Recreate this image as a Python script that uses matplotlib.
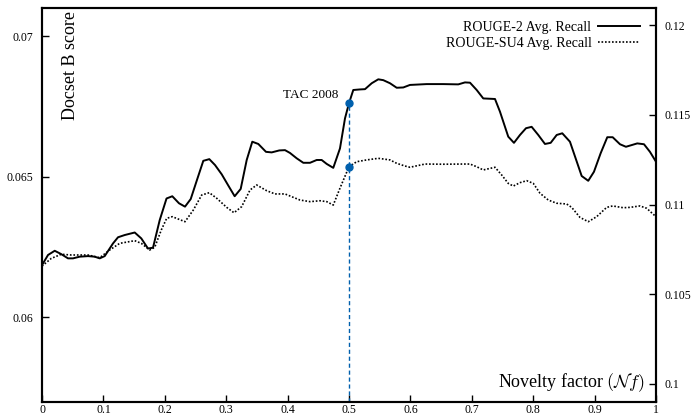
import numpy as np
import matplotlib
matplotlib.use('Agg')
import matplotlib.pyplot as plt

plt.rcParams['font.family'] = ['Liberation Serif', 'DejaVu Serif']
plt.rcParams['mathtext.fontset'] = 'cm'

# ROUGE-2 (left axis)
r2_x = [0.0, 0.0098, 0.0207, 0.0314, 0.0423, 0.0505, 0.0614, 0.0749, 0.0858, 0.0940,
        0.1021, 0.1156, 0.1238, 0.1347, 0.1510, 0.1617, 0.1726, 0.1808, 0.1917, 0.2028,
        0.2122, 0.2231, 0.2329, 0.2422, 0.2524, 0.2627, 0.2725, 0.2818, 0.2927, 0.3029,
        0.3138, 0.3236, 0.3334, 0.3425, 0.3523, 0.3648, 0.3741, 0.3865, 0.3958, 0.4039,
        0.4148, 0.4256, 0.4365, 0.4474, 0.4555, 0.4637, 0.4744, 0.4853, 0.4935, 0.5,
        0.5070, 0.5179, 0.5261, 0.5370, 0.5477, 0.5559, 0.5668, 0.5777, 0.5884, 0.5993,
        0.6265, 0.6536, 0.6780, 0.6889, 0.6971, 0.7080, 0.7187, 0.7378, 0.7459, 0.7594,
        0.7687, 0.7785, 0.7883, 0.7975, 0.8083, 0.8192, 0.8285, 0.8383, 0.8474, 0.8599,
        0.8790, 0.8897, 0.8990, 0.9099, 0.9207, 0.9295, 0.9414, 0.9511, 0.9604, 0.9695,
        0.9805, 0.9902, 1.0]
r2_y = [0.06185, 0.06221, 0.06236, 0.06224, 0.06209, 0.06209, 0.06215, 0.06217, 0.06215, 0.06209,
        0.06217, 0.06262, 0.06284, 0.06292, 0.06301, 0.06280, 0.06244, 0.06247, 0.06345, 0.06422,
        0.06430, 0.06405, 0.06393, 0.06420, 0.06488, 0.06556, 0.06562, 0.06541, 0.06508, 0.06470,
        0.06430, 0.06456, 0.06559, 0.06624, 0.06616, 0.06588, 0.06586, 0.06593, 0.06594, 0.06584,
        0.06565, 0.06549, 0.06549, 0.06559, 0.06559, 0.06545, 0.06531, 0.06600, 0.06707, 0.06761,
        0.06808, 0.06810, 0.06811, 0.06832, 0.06846, 0.06843, 0.06832, 0.06816, 0.06817, 0.06826,
        0.06829, 0.06829, 0.06828, 0.06835, 0.06834, 0.06808, 0.06778, 0.06776, 0.06731, 0.06642,
        0.06620, 0.06648, 0.06672, 0.06677, 0.06648, 0.06616, 0.06620, 0.06648, 0.06654, 0.06624,
        0.06502, 0.06485, 0.06517, 0.06583, 0.06640, 0.06640, 0.06615, 0.06606, 0.06612, 0.06618,
        0.06615, 0.06588, 0.06553]

# ROUGE-SU4 (right axis)
su4_x = [0.0, 0.0151, 0.0314, 0.0477, 0.0749, 0.0940, 0.1103, 0.1265, 0.1510, 0.1617,
         0.1754, 0.1836, 0.1943, 0.2031, 0.2122, 0.2329, 0.2464, 0.2601, 0.2725, 0.2845,
         0.3008, 0.3127, 0.3252, 0.3388, 0.3497, 0.3660, 0.3795, 0.3958, 0.4093, 0.4202,
         0.4365, 0.4528, 0.4637, 0.4744, 0.4853, 0.5, 0.5125, 0.5288, 0.5477, 0.5668,
         0.5777, 0.5912, 0.5993, 0.6238, 0.6536, 0.6862, 0.6971, 0.7080, 0.7187, 0.7378,
         0.7487, 0.7594, 0.7676, 0.7785, 0.7894, 0.8002, 0.8111, 0.8246, 0.8383, 0.8545,
         0.8627, 0.8762, 0.8897, 0.9034, 0.9197, 0.9295, 0.9467, 0.9577, 0.9739, 0.9848,
         1.0]
su4_y = [0.10656, 0.10699, 0.10722, 0.10718, 0.10718, 0.10703, 0.10746, 0.10783, 0.10798, 0.10783,
         0.10746, 0.10761, 0.10858, 0.10923, 0.10932, 0.10904, 0.10969, 0.11053, 0.11066, 0.11035,
         0.10984, 0.10954, 0.10988, 0.11081, 0.11109, 0.11077, 0.11059, 0.11059, 0.11040, 0.11025,
         0.11016, 0.11021, 0.11016, 0.10997, 0.11091, 0.11211, 0.11239, 0.11249, 0.11258, 0.11249,
         0.11230, 0.11215, 0.11208, 0.11226, 0.11225, 0.11226, 0.11226, 0.11211, 0.11193, 0.11208,
         0.11165, 0.11118, 0.11103, 0.11122, 0.11133, 0.11118, 0.11063, 0.11025, 0.11007, 0.11003,
         0.10984, 0.10928, 0.10904, 0.10932, 0.10984, 0.10992, 0.10982, 0.10984, 0.10992, 0.10979,
         0.10932]

tac_x = 0.5
tac_r2 = 0.06761
tac_su4 = 0.11211
blue = '#0060ad'

fig = plt.figure(figsize=(6.91, 4.17), dpi=100)
ax = fig.add_axes([0.0608, 0.036, 0.8885, 0.945])
ax2 = ax.twinx()

l1, = ax.plot(r2_x, r2_y, color='black', lw=1.4, label='ROUGE-2 Avg. Recall')
l2, = ax2.plot(su4_x, su4_y, color='black', lw=1.2, ls=(0, (1, 1.1)),
               label='ROUGE-SU4 Avg. Recall')

# TAC 2008 marker
ax.plot([tac_x, tac_x], [0.05698, tac_r2], color=blue, lw=1.0, ls=(0, (3, 2)))
ax.plot([tac_x], [tac_r2], 'o', color=blue, ms=5)
ax2.plot([tac_x], [tac_su4], 'o', color=blue, ms=5)
ax.text(0.482, 0.0679, 'TAC 2008', ha='right', va='center', fontsize=9.5)

ax.set_xlim(0, 1)
ax.set_ylim(0.05698, 0.071)
ax2.set_ylim(0.09897, 0.12098)
ax.set_xticks(np.arange(0, 1.01, 0.1))
ax.set_xticklabels(['0', '0.1', '0.2', '0.3', '0.4', '0.5', '0.6', '0.7', '0.8', '0.9', '1'])
ax.set_yticks([0.06, 0.065, 0.07])
ax.set_yticklabels(['0.06', '0.065', '0.07'])
ax2.set_yticks([0.1, 0.105, 0.11, 0.115, 0.12])
ax2.set_yticklabels(['0.1', '0.105', '0.11', '0.115', '0.12'])

for a in (ax, ax2):
    a.tick_params(direction='in', length=5, width=1, labelsize=8.5)
    for s in a.spines.values():
        s.set_linewidth(1.5)
ax.tick_params(axis='x', pad=1.5)
ax.tick_params(axis='y', pad=6)
ax2.tick_params(axis='y', pad=6)

ax.text(0.0456, 0.993, 'Docset B score', rotation=90, ha='center', va='top',
        transform=ax.transAxes, fontsize=13)
ax.text(0.982, 0.048, r'Novelty factor $(\mathcal{N}f)$', ha='right', va='center',
        transform=ax.transAxes, fontsize=13)

ax2.legend(handles=[l1, l2], loc='upper right', bbox_to_anchor=(0.974, 0.967),
           frameon=False, markerfirst=False, fontsize=10, handlelength=3.0,
           handletextpad=0.5, borderaxespad=0, borderpad=0, labelspacing=0.2)

fig.savefig('out.png', dpi=100)
